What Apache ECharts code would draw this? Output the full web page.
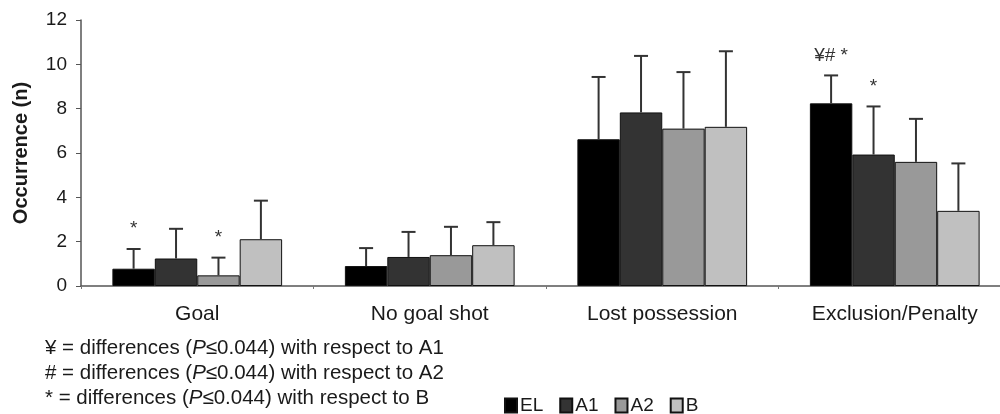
<!DOCTYPE html>
<html><head><meta charset="utf-8">
<script src="https://cdn.jsdelivr.net/npm/echarts@6/dist/echarts.min.js"></script>
<style>html,body{margin:0;padding:0;background:#fff;overflow:hidden}#c{width:1011px;height:414px}</style>
</head><body><div id="c"></div>
<script>
const categories = ['Goal', 'No goal shot', 'Lost possession', 'Exclusion/Penalty'];
const seriesNames = ['EL', 'A1', 'A2', 'B'];
const meanEL = [0.78, 0.90, 6.62, 8.24];
const meanA1 = [1.24, 1.31, 7.83, 5.93];
const meanA2 = [0.48, 1.39, 7.10, 5.60];
const meanB  = [2.11, 1.84, 7.18, 3.39];
const upperEL = [1.67, 1.71, 9.43, 9.50];
const upperA1 = [2.58, 2.44, 10.38, 8.10];
const upperA2 = [1.28, 2.67, 9.65, 7.54];
const upperB  = [3.85, 2.88, 10.59, 5.53];
const sigEL = ['*', '', '', '¥# *'];
const sigA1 = ['', '', '', '*'];
const sigA2 = ['*', '', '', ''];
const sigB  = ['', '', '', ''];
const yTicks = [0, 2, 4, 6, 8, 10, 12];
const footnotes = [
  '¥ = differences ({i|P}≤0.044) with respect to A1',
  '# = differences ({i|P}≤0.044) with respect to A2',
  '* = differences ({i|P}≤0.044) with respect to B'
];

const means = [meanEL, meanA1, meanA2, meanB];
const uppers = [upperEL, upperA1, upperA2, upperB];
const sigs = [sigEL, sigA1, sigA2, sigB];
const colors = ['#000000', '#333333', '#999999', '#c0c0c0'];
const GAP = 0.27;
const FONT = 'Liberation Sans, Arial, sans-serif';
const TXT = '#1a1a1a';

const errData = [];
for (let s = 0; s < 4; s++) for (let c = 0; c < 4; c++) errData.push([c, s, means[s][c], uppers[s][c]]);

const chart = echarts.init(document.getElementById('c'));
const barSeries = seriesNames.map((n, i) => ({
  name: n, type: 'bar', data: means[i], barGap: 0, barCategoryGap: (GAP * 100) + '%',
  itemStyle: { color: colors[i], borderColor: '#111', borderWidth: 1 }, z: 2
}));
chart.setOption({
  animation: false,
  grid: { left: 81, right: 0, top: 20, bottom: 128 },
  xAxis: {
    type: 'category', data: categories,
    axisLine: { lineStyle: { color: '#555', width: 1.5 } },
    axisTick: { show: true, length: 3, lineStyle: { color: '#777' } },
    axisLabel: { color: TXT, fontSize: 21, fontFamily: FONT, margin: 18 }
  },
  yAxis: {
    type: 'value', min: yTicks[0], max: yTicks[yTicks.length - 1], interval: 2,
    name: 'Occurrence (n)', nameLocation: 'middle', nameGap: 50,
    nameTextStyle: { fontWeight: 'bold', fontSize: 20, color: TXT, fontFamily: FONT },
    splitLine: { show: false },
    axisLine: { show: true, lineStyle: { color: '#555', width: 1.5 } },
    axisTick: { show: true, length: 5, lineStyle: { color: '#555' } },
    axisLabel: { color: TXT, fontSize: 19, fontFamily: FONT, margin: 14 }
  },
  legend: {
    data: seriesNames, left: 504, top: 396, padding: 0, itemWidth: 12, itemHeight: 14, itemGap: 16,
    icon: 'rect', textStyle: { fontSize: 19, color: TXT, fontFamily: FONT, padding: [0, 0, 0, -2] }
  },
  graphic: footnotes.map((t, k) => ({
    type: 'text', left: 45, top: 338 + k * 25,
    style: { text: t, rich: { i: { fontStyle: 'italic', fontSize: 20.5, fontFamily: FONT, fill: TXT } }, font: '20.5px ' + FONT, fill: TXT }
  })),
  series: barSeries.concat([{
    type: 'custom', name: 'err', data: errData, z: 3,
    encode: { x: 0, y: 3 },
    renderItem: function (params, api) {
      const c = api.value(0), s = api.value(1), m = api.value(2), u = api.value(3);
      const catW = api.size([1, 0])[0];
      const barW = catW * (1 - GAP) / 4;
      const x = api.coord([c, 0])[0] + (s - 1.5) * barW;
      const yM = api.coord([c, m])[1];
      const yU = api.coord([c, u])[1];
      const st = { stroke: '#333', lineWidth: 2 };
      const children = [
        { type: 'line', shape: { x1: x, y1: yM, x2: x, y2: yU }, style: st },
        { type: 'line', shape: { x1: x - 7, y1: yU, x2: x + 7, y2: yU }, style: st }
      ];
      const t = sigs[s][c];
      if (t) children.push({ type: 'text', style: { text: t, x: x, y: yU - 20, align: 'center', verticalAlign: 'middle', font: '19px ' + FONT, fill: '#333' } });
      return { type: 'group', children: children };
    }
  }])
});
</script></body></html>
